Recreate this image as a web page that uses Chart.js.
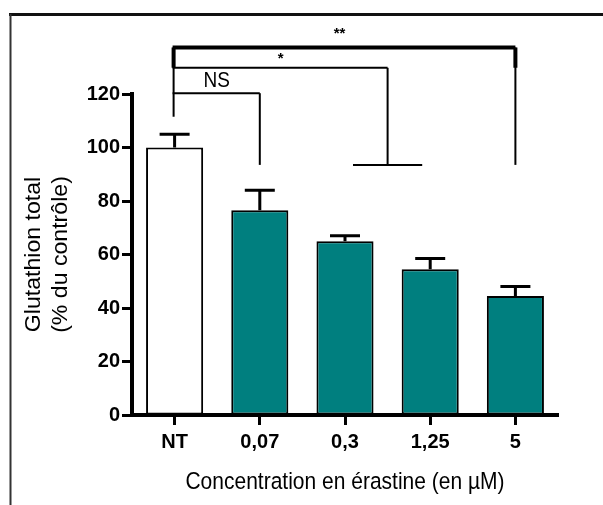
<!DOCTYPE html>
<html>
<head>
<meta charset="utf-8">
<script src="https://cdn.jsdelivr.net/npm/chart.js@4.4.1/dist/chart.umd.min.js"></script>
<style>
  html, body { margin: 0; padding: 0; background: #fff; }
  #wrap { position: relative; width: 603px; height: 505px; }
</style>
</head>
<body>
<div id="wrap"><canvas id="chart"></canvas></div>
<script>
const categories = ['NT', '0,07', '0,3', '1,25', '5'];
const glutathion = [100, 76.5, 65, 54.5, 44.5];
const sem = [5, 7.5, 2, 4, 3.5];
const yTicks = [0, 20, 40, 60, 80, 100, 120];
const sigLabels = ['NS', '*', '**'];
const sigTo = [1, 2.5, 4]; // right end of each comparison (category index, all start at NT)

const TEAL = '#007f7f';
const FONT = 'Arial, "Liberation Sans", sans-serif';

// thin frame around the figure (only top and left are visible)
const framePlugin = {
  id: 'frame',
  afterDraw(chart) {
    const ctx = chart.ctx;
    ctx.save();
    ctx.strokeStyle = '#111';
    ctx.lineWidth = 3;
    ctx.beginPath();
    ctx.moveTo(9, 14.5);
    ctx.lineTo(603, 14.5);
    ctx.stroke();
    ctx.strokeStyle = '#333';
    ctx.lineWidth = 2;
    ctx.beginPath();
    ctx.moveTo(10.5, 14);
    ctx.lineTo(10.5, 505);
    ctx.stroke();
    ctx.restore();
  }
};

// one-sided (upper) error bars
const errorBars = {
  id: 'errorBars',
  afterDatasetsDraw(chart) {
    const ctx = chart.ctx;
    const y = chart.scales.y;
    const meta = chart.getDatasetMeta(0);
    ctx.save();
    ctx.strokeStyle = '#000';
    ctx.lineWidth = 3;
    meta.data.forEach((bar, i) => {
      const top = y.getPixelForValue(glutathion[i]);
      const end = y.getPixelForValue(glutathion[i] + sem[i]);
      ctx.beginPath();
      ctx.moveTo(bar.x, top);
      ctx.lineTo(bar.x, end);
      ctx.moveTo(bar.x - 15, end);
      ctx.lineTo(bar.x + 15, end);
      ctx.stroke();
    });
    ctx.restore();
  }
};

// significance brackets above the bars
const brackets = {
  id: 'brackets',
  afterDraw(chart) {
    const ctx = chart.ctx;
    const x = chart.scales.x;
    const y = chart.scales.y;
    const px = v => {
      const a = Math.floor(v), b = Math.ceil(v);
      return x.getPixelForValue(a) + (x.getPixelForValue(b) - x.getPixelForValue(a)) * (v - a);
    };
    const levels = [120.3, 129.8, 137.4];
    const textLevels = [125, 134.5, 144];
    const legEnd = y.getPixelForValue(93.5);
    const x0 = px(0) - 1;

    ctx.save();
    ctx.strokeStyle = '#000';
    ctx.fillStyle = '#000';
    ctx.lineCap = 'butt';

    // shared left leg
    ctx.lineWidth = 2;
    ctx.beginPath();
    ctx.moveTo(x0, y.getPixelForValue(levels[2]));
    ctx.lineTo(x0, y.getPixelForValue(111.5));
    ctx.stroke();

    sigTo.forEach((to, i) => {
      const lv = y.getPixelForValue(levels[i]);
      const xr = px(to);
      ctx.lineWidth = i === 2 ? 4 : 2;
      ctx.beginPath();
      ctx.moveTo(x0 - 1, lv);
      ctx.lineTo(xr, lv);
      ctx.stroke();
      ctx.lineWidth = 2;
      ctx.beginPath();
      ctx.moveTo(xr, lv);
      ctx.lineTo(xr, legEnd);
      ctx.stroke();
      if (i === 1) {
        ctx.beginPath();
        ctx.moveTo(px(2) + 8, legEnd);
        ctx.lineTo(px(3) - 8, legEnd);
        ctx.stroke();
      }
      if (i === 2) {
        // thick stubs at both ends of the ** bracket
        ctx.lineWidth = 4;
        ctx.beginPath();
        ctx.moveTo(x0, lv);
        ctx.lineTo(x0, y.getPixelForValue(levels[1]));
        ctx.moveTo(xr, lv);
        ctx.lineTo(xr, y.getPixelForValue(levels[1]));
        ctx.stroke();
      }

      const isStar = sigLabels[i].indexOf('*') >= 0;
      const tx = (x0 + xr) / 2 - (i === 2 ? 5 : 0);
      const ty = y.getPixelForValue(textLevels[i]) + (isStar ? 4 : 0);
      ctx.save();
      ctx.translate(tx, ty);
      if (!isStar) ctx.scale(1, 1.2);
      ctx.textAlign = 'center';
      ctx.textBaseline = 'middle';
      ctx.font = isStar ? 'bold 15px ' + FONT : '19px ' + FONT;
      ctx.fillText(sigLabels[i], 0, 0);
      ctx.restore();
    });
    ctx.restore();
  }
};

// axis titles
const axisTitles = {
  id: 'axisTitles',
  afterDraw(chart) {
    const ctx = chart.ctx;
    const a = chart.chartArea;
    ctx.save();
    ctx.fillStyle = '#000';
    ctx.textAlign = 'center';
    ctx.textBaseline = 'middle';
    ctx.font = '21px ' + FONT;
    ctx.save();
    ctx.translate((a.left + a.right) / 2, 483);
    ctx.scale(1, 1.12);
    ctx.fillText('Concentration en érastine (en µM)', 0, 0);
    ctx.restore();
    ctx.translate(0, (a.top + a.bottom) / 2);
    ctx.rotate(-Math.PI / 2);
    ctx.scale(1.05, 1);
    ctx.font = '22px ' + FONT;
    ctx.fillText('Glutathion total', 0, 34);
    ctx.fillText('(% du contrôle)', 0, 61);
    ctx.restore();
  }
};

new Chart(document.getElementById('chart'), {
  type: 'bar',
  data: {
    labels: categories,
    datasets: [{
      data: glutathion,
      backgroundColor: categories.map((c, i) => i === 0 ? '#ffffff' : TEAL),
      borderColor: '#000',
      borderWidth: 2,
      borderSkipped: false,
      categoryPercentage: 1,
      barPercentage: 0.67
    }]
  },
  options: {
    responsive: true,
    maintainAspectRatio: false,
    animation: false,
    layout: {
      padding: { left: 11, right: 45, top: 94, bottom: 0 }
    },
    scales: {
      x: {
        offset: true,
        afterFit: (s) => { s.height = 90; },
        ticks: {
          color: '#000',
          padding: 5,
          font: { family: FONT, size: 20, weight: 'bold' }
        },
        grid: {
          offset: false,
          drawOnChartArea: false,
          tickLength: 10,
          tickWidth: 3,
          tickColor: '#000'
        },
        border: { display: true, color: '#000', width: 4 }
      },
      y: {
        min: 0,
        max: 120,
        afterFit: (s) => { s.width = 121; },
        afterBuildTicks: (s) => { s.ticks = yTicks.map(v => ({ value: v })); },
        ticks: {
          color: '#000',
          padding: 2,
          font: { family: FONT, size: 20, weight: 'bold' }
        },
        grid: {
          drawOnChartArea: false,
          tickLength: 10,
          tickWidth: 3,
          tickColor: '#000'
        },
        border: { display: true, color: '#000', width: 4 }
      }
    },
    plugins: {
      legend: { display: false },
      title: { display: false },
      tooltip: { enabled: false }
    }
  },
  plugins: [errorBars, brackets, axisTitles, framePlugin]
});
</script>
</body>
</html>
